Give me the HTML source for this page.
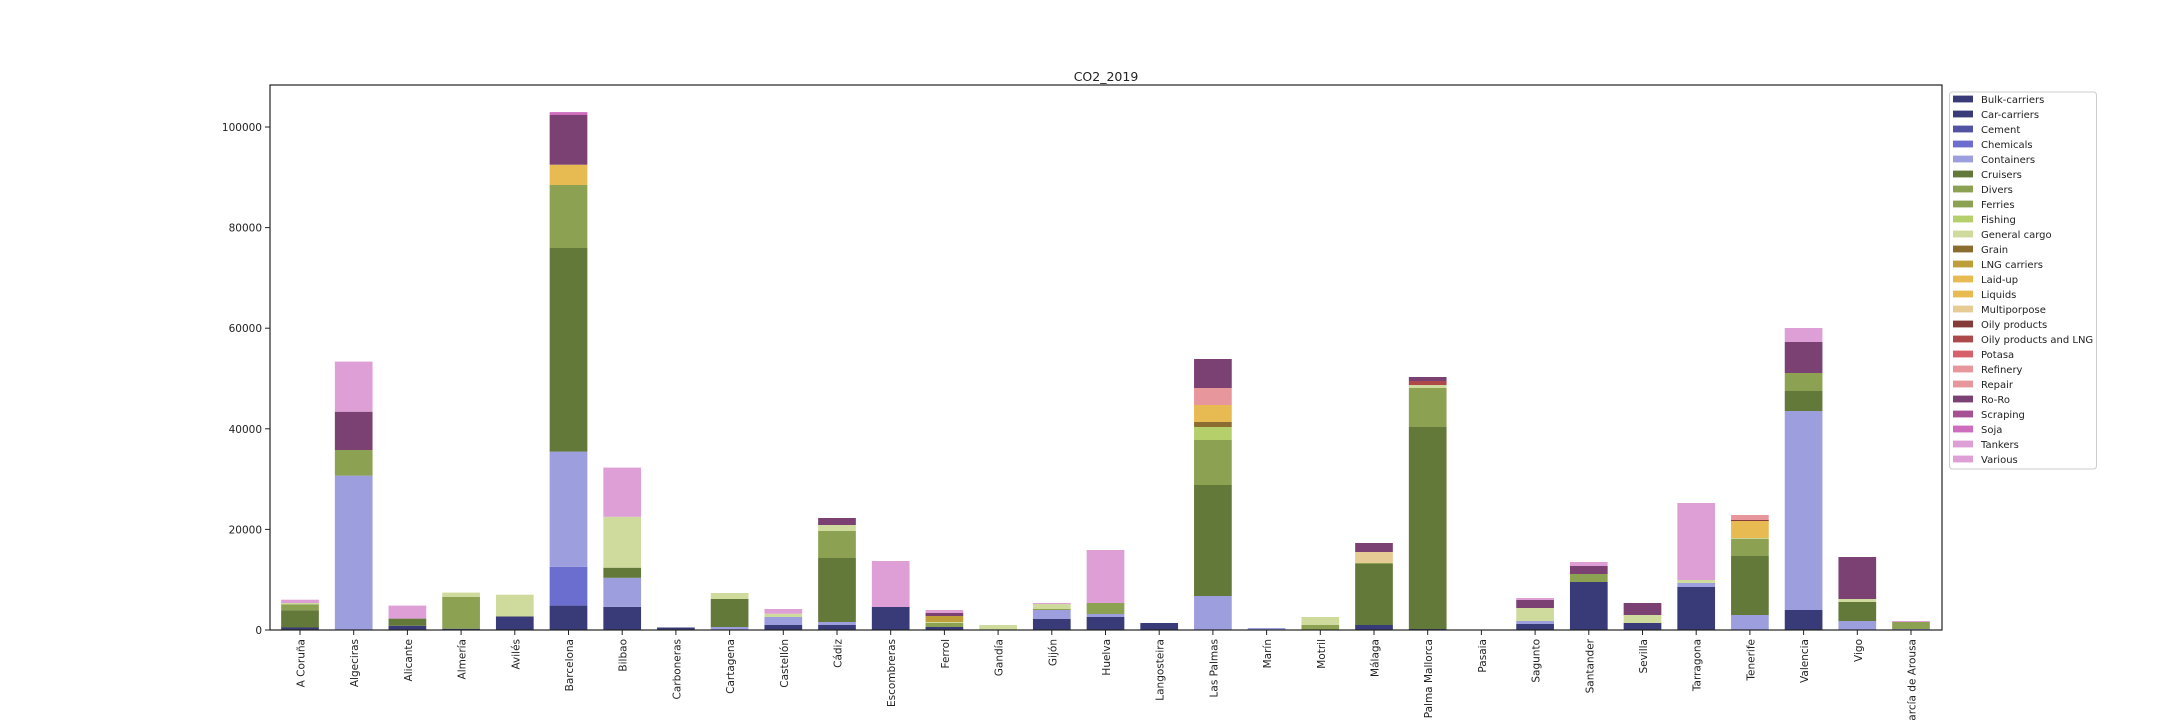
<!DOCTYPE html>
<html><head><meta charset="utf-8"><style>body{margin:0;background:#fff}svg{display:block}text{font-family:"DejaVu Sans","Liberation Sans",sans-serif;fill:#222}</style></head>
<body>
<svg id="s" width="2160" height="720" xmlns="http://www.w3.org/2000/svg">
<text x="1106" y="81" font-size="12.5" text-anchor="middle">CO2_2019</text>
<g id="bars"></g>
<g id="ax"></g>
</svg>
<script>
const C={b:'#393b79',ch:'#6b6ecf',co:'#9c9ede',cr:'#637939',fe:'#8ca252',fi:'#b5cf6b',gc:'#cedb9c',gr:'#8c6d31',ln:'#bd9e39',li:'#e7ba52',mu:'#e7cb94',oi:'#843c39',ol:'#ad494a',re:'#e7969c',ro:'#7b4173',so:'#ce6dbd',ta:'#de9ed6'};
const D=[
['A Coruña',[['b',2.5],['cr',19.8],['fe',25.7],['gc',27],['ta',30.3]]],
['Algeciras',[['co',154.4],['fe',180],['ro',218.3],['ta',268.4]]],
['Alicante',[['b',4.2],['cr',11.4],['ta',24.4]]],
['Almería',[['b',1.3],['fe',33.2],['gc',37.4]]],
['Avilés',[['b',13.5],['gc',35.3]]],
['Barcelona',[['b',24.4],['ch',63.1],['co',178.4],['cr',382],['fe',445],['li',465.3],['ro',515],['so',517.9]]],
['Bilbao',[['b',23.1],['co',52.2],['cr',62.3],['gc',113.2],['ta',162.4]]],
['Carboneras',[['b',2.5]]],
['Cartagena',[['co',3],['cr',31],['gc',37]]],
['Castellón',[['b',5],['co',13],['gc',16.3],['ta',21]]],
['Cádiz',[['b',5],['co',8],['cr',72],['fe',99],['gc',105],['ro',112]]],
['Escombreras',[['b',23],['ta',69]]],
['Ferrol',[['b',3],['fe',7],['gc',8],['ln',14],['ro',17],['ta',20]]],
['Gandía',[['gc',5]]],
['Gijón',[['b',11],['co',20],['fe',21],['gc',26],['ta',27]]],
['Huelva',[['b',13],['co',16],['fe',27],['ta',80]]],
['Langosteira',[['b',7]]],
['Las Palmas',[['co',34],['cr',145],['fe',190],['fi',203],['gr',208],['li',225],['re',242],['ro',271]]],
['Marín',[['co',2]]],
['Motril',[['fe',5],['gc',13]]],
['Málaga',[['b',5],['cr',66],['fe',67],['mu',78],['ro',87]]],
['Palma Mallorca',[['b',1],['cr',203],['fe',242],['gc',245],['ol',249],['ro',253]]],
['Pasaia',[['b',0.3]]],
['Sagunto',[['b',6],['co',9],['gc',22],['ro',30],['ta',32]]],
['Santander',[['b',48],['fe',56],['ro',64],['ta',68]]],
['Sevilla',[['b',7],['gc',15],['ro',27]]],
['Tarragona',[['b',43],['co',47],['gc',50],['ta',127]]],
['Tenerife',[['co',15],['cr',74],['fe',91.3],['gc',92],['li',109],['oi',110],['re',115]]],
['Valencia',[['b',20],['co',219],['cr',239],['fe',257],['ro',288],['ta',302]]],
['Vigo',[['co',9],['cr',28],['gc',31],['ro',73]]],
['Vilagarcía de Arousa',[['co',1],['fe',8],['ta',9]]]
];
const B=630,X0=300,ST=53.7,W=37.7;let h='';
D.forEach((d,i)=>{const cx=X0+i*ST;let prev=0;d[1].forEach(s=>{h+=`<rect x="${cx-W/2}" y="${B-s[1]}" width="${W}" height="${s[1]-prev}" fill="${C[s[0]]}"/>`;prev=s[1];});
h+=`<line x1="${cx}" y1="630" x2="${cx}" y2="635" stroke="#222" stroke-width="1"/><text transform="translate(${cx+4.5},639) rotate(-90)" font-size="10.5" text-anchor="end">${d[0]}</text>`;});
document.getElementById('bars').innerHTML=h;
let a='<rect x="270" y="85" width="1672" height="545" fill="none" stroke="#222" stroke-width="1.2"/>';
[0,20000,40000,60000,80000,100000].forEach((v,i)=>{const y=630-i*100.6;a+=`<line x1="265" y1="${y}" x2="270" y2="${y}" stroke="#222"/><text x="262" y="${y+4}" font-size="10.5" text-anchor="end">${v}</text>`;});
const L=[['Bulk-carriers','b'],['Car-carriers','b'],['Cement','#5254a3'],['Chemicals','ch'],['Containers','co'],['Cruisers','cr'],['Divers','fe'],['Ferries','fe'],['Fishing','fi'],['General cargo','gc'],['Grain','gr'],['LNG carriers','ln'],['Laid-up','li'],['Liquids','li'],['Multiporpose','mu'],['Oily products','oi'],['Oily products and LNG','ol'],['Potasa','#d6616b'],['Refinery','re'],['Repair','re'],['Ro-Ro','ro'],['Scraping','#a55194'],['Soja','so'],['Tankers','ta'],['Various','ta']];
a+='<rect x="1949.5" y="92" width="147" height="377" rx="3" fill="#fff" stroke="#ccc"/>';
L.forEach((l,i)=>{const y=99+i*15;const c=C[l[1]]||l[1];a+=`<rect x="1953" y="${y-3.4}" width="20" height="6.8" fill="${c}"/><text x="1981" y="${y+4}" font-size="10">${l[0]}</text>`;});
document.getElementById('ax').innerHTML=a;
</script>
</body></html>
